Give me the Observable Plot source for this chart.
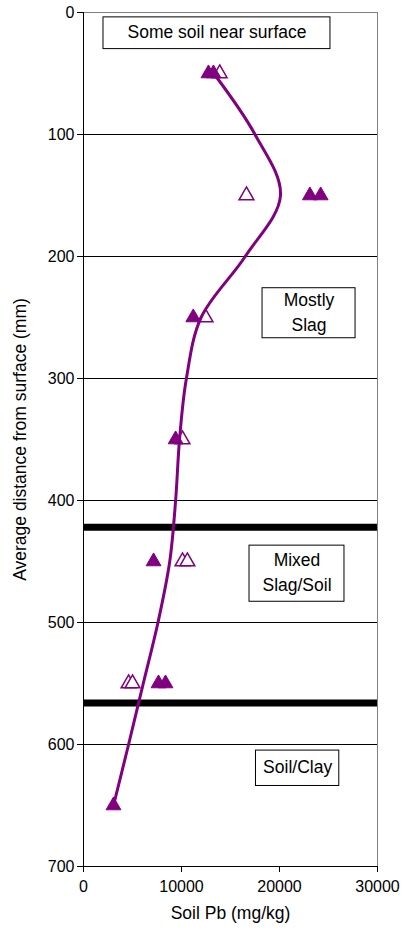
<!DOCTYPE html>
<html>
<head>
<meta charset="utf-8">
<script src="https://cdn.jsdelivr.net/npm/d3@7"></script>
<script src="https://cdn.jsdelivr.net/npm/@observablehq/plot@0.6"></script>
<style>
  html, body { margin: 0; padding: 0; background: #fff; }
  svg { display: block; }
</style>
</head>
<body>
<div id="chart"></div>
<script>
// Filled triangles
const filledDepth = [50, 50, 150, 150, 250, 350, 450, 550, 550, 650];
const filledPb    = [12750, 13260, 23100, 24200, 11200, 9400, 7150, 7650, 8370, 3060];
// Open triangles
const openDepth = [50, 150, 250, 350, 450, 450, 550, 550];
const openPb    = [13900, 16630, 12450, 10100, 10100, 10600, 4600, 5000];
// Trend line
const trendDepth = [50, 100, 150, 200, 250, 300, 350, 400, 450, 500, 550, 600, 650];
const trendPb    = [13300, 17500, 20100, 16500, 12000, 10500, 9800, 9400, 8800, 7600, 6100, 4600, 3060];
// Layer boundaries
const boundaries = [422, 566];
// Grid / ticks
const xTicks = [0, 10000, 20000, 30000];
const yTicks = [0, 100, 200, 300, 400, 500, 600, 700];
const gridLines = [100, 200, 300, 400, 500, 600];
// Annotation boxes
const boxLabels = ["Some soil near surface", "Mostly\nSlag", "Mixed\nSlag/Soil", "Soil/Clay"];
const boxX1 = [2040, 18270, 16940, 17600];
const boxX2 = [25200, 27760, 26630, 26100];
const boxY1 = [4, 226, 437, 605];
const boxY2 = [30, 267, 483, 634];

const filled = filledDepth.map((d, i) => ({depth: d, pb: filledPb[i]}));
const open = openDepth.map((d, i) => ({depth: d, pb: openPb[i]}));
const trend = trendDepth.map((d, i) => ({depth: d, pb: trendPb[i]}));
const boxes = boxLabels.map((t, i) => ({label: t, x1: boxX1[i], x2: boxX2[i], y1: boxY1[i], y2: boxY2[i]}));

const purple = "#800080";

const chart = Plot.plot({
  width: 404,
  height: 937,
  marginLeft: 83,
  marginRight: 27,
  marginTop: 12,
  marginBottom: 71,
  style: {fontFamily: "'Liberation Sans', Arial, sans-serif", fontSize: "16px", color: "#000", background: "#fff"},
  x: {domain: [0, 30000], ticks: xTicks, tickFormat: d => String(d), label: null},
  y: {domain: [0, 700], reverse: true, ticks: yTicks, tickFormat: d => String(d), label: null},
  marks: [
    Plot.frame({stroke: "#808080"}),
    Plot.ruleY(gridLines, {stroke: "#000", strokeWidth: 1}),
    Plot.ruleY(boundaries, {stroke: "#000", strokeWidth: 7}),
    Plot.rect(boxes, {x1: "x1", x2: "x2", y1: "y1", y2: "y2", fill: "#fff", stroke: "#000", strokeWidth: 1}),
    Plot.text(boxes, {x: d => (d.x1 + d.x2) / 2, y: d => (d.y1 + d.y2) / 2, dy: -3, text: "label", fontSize: 17.5, lineHeight: 1.45, fill: "#000"}),
    Plot.dot(open, {x: "pb", y: "depth", symbol: "triangle", r: 5.5, fill: "#fff", stroke: purple, strokeWidth: 1.5}),
    Plot.line(trend, {x: "pb", y: "depth", curve: "catmull-rom", stroke: purple, strokeWidth: 3}),
    Plot.dot(filled, {x: "pb", y: "depth", symbol: "triangle", r: 5.5, fill: purple, stroke: purple, strokeWidth: 1}),
    Plot.axisX({ticks: xTicks, tickFormat: d => String(d), tickSize: 6, tickPadding: 8, label: null, fontSize: 16}),
    Plot.axisY({ticks: yTicks, tickFormat: d => String(d), tickSize: 6, tickPadding: 3, label: null, fontSize: 16}),
    Plot.ruleX([0], {stroke: "#000", strokeWidth: 1}),
    Plot.ruleY([700], {stroke: "#000", strokeWidth: 1}),
    Plot.text(["Soil Pb (mg/kg)"], {frameAnchor: "bottom", dy: 52, text: d => d, fontSize: 17.5, fill: "#000"}),
    Plot.text(["Average distance from surface (mm)"], {frameAnchor: "left", textAnchor: "middle", dx: -63, rotate: -90, text: d => d, fontSize: 17.5, fill: "#000"})
  ]
});
document.getElementById("chart").appendChild(chart);
</script>
</body>
</html>
